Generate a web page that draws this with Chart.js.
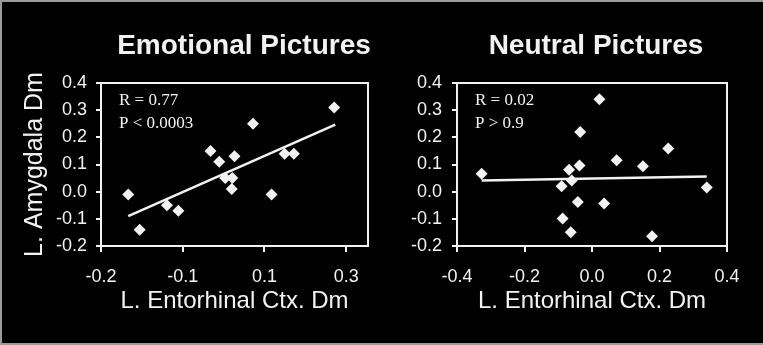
<!DOCTYPE html>
<html>
<head>
<meta charset="utf-8">
<script src="https://cdn.jsdelivr.net/npm/chart.js@4.4.1/dist/chart.umd.min.js"></script>
<style>
  body { margin: 0; background: #9a9a9a; width: 763px; height: 345px; overflow: hidden; }
  #back { position: absolute; left: 2px; top: 2px; width: 761px; height: 341px; background: #000; }
  canvas { position: absolute; top: 0; }
</style>
</head>
<body>
<div id="back"></div>
<canvas id="emo" width="381" height="345" style="left:0"></canvas>
<canvas id="neu" width="382" height="345" style="left:381px"></canvas>
<script>
// Emotional pictures panel
const emoX = [-0.150, -0.129, -0.079, -0.058, 0.001, 0.017, 0.028, 0.041, 0.040, 0.045, 0.079, 0.113, 0.137, 0.154, 0.228];
const emoY = [-0.01, -0.14, -0.05, -0.07, 0.15, 0.11, 0.05, 0.05, 0.01, 0.13, 0.25, -0.01, 0.14, 0.14, 0.31];
const emoFitX = [-0.150, 0.230];
const emoFitY = [-0.090, 0.247];
const emoXTicks = [-0.2, -0.05, 0.1, 0.25];
const emoXTickLabels = ['-0.2', '-0.1', '0.1', '0.3'];
const emoStats = ['R = 0.77', 'P < 0.0003'];

// Neutral pictures panel
const neuX = [-0.327, -0.090, -0.068, -0.060, -0.037, -0.035, 0.022, 0.073, -0.042, 0.036, -0.087, -0.063, 0.151, 0.226, 0.178, 0.340];
const neuY = [0.066, 0.020, 0.081, 0.041, 0.096, 0.220, 0.340, 0.116, -0.038, -0.044, -0.099, -0.149, 0.094, 0.159, -0.164, 0.015];
const neuFitX = [-0.327, 0.340];
const neuFitY = [0.041, 0.056];
const neuXTicks = [-0.4, -0.2, 0.0, 0.2, 0.4];
const neuXTickLabels = ['-0.4', '-0.2', '0.0', '0.2', '0.4'];
const neuStats = ['R = 0.02', 'P > 0.9'];

const yTicks = [-0.2, -0.1, 0.0, 0.1, 0.2, 0.3, 0.4];

const white = '#f2f2f2';
const sans = '"Liberation Sans", Arial, sans-serif';

// frame, panel title and R/P text
const panelText = {
  id: 'panelText',
  afterDraw(chart, args, opts) {
    const { ctx, chartArea: a } = chart;
    ctx.save();
    ctx.strokeStyle = white;
    ctx.lineWidth = 2;
    ctx.strokeRect(a.left, a.top, a.right - a.left, a.bottom - a.top);
    ctx.fillStyle = white;
    ctx.font = 'bold 28px ' + sans;
    ctx.textAlign = 'center';
    ctx.fillText(opts.title, opts.titleX, 54);
    ctx.font = '17px "Liberation Serif", "Times New Roman", serif';
    ctx.textAlign = 'left';
    opts.stats.forEach((s, i) => ctx.fillText(s, a.left + 18, a.top + 22 + i * 23));
    ctx.restore();
  }
};

function makePanel(id, p) {
  new Chart(document.getElementById(id), {
    type: 'scatter',
    data: {
      datasets: [{
        data: p.xs.map((x, i) => ({ x: x, y: p.ys[i] })),
        pointStyle: 'rectRot',
        pointRadius: 6,
        backgroundColor: white,
        borderColor: white,
        borderWidth: 0
      }, {
        data: p.fitX.map((x, i) => ({ x: x, y: p.fitY[i] })),
        showLine: true,
        borderColor: white,
        borderWidth: 2.5,
        pointRadius: 0
      }]
    },
    options: {
      responsive: false,
      animation: false,
      devicePixelRatio: 1,
      layout: { padding: { left: 0, right: p.padRight, top: 83, bottom: 0 } },
      plugins: {
        legend: { display: false },
        tooltip: { enabled: false },
        panelText: { title: p.title, titleX: p.titleX, stats: p.stats }
      },
      scales: {
        x: {
          type: 'linear',
          min: p.xMin,
          max: p.xMax,
          afterBuildTicks: s => { s.ticks = p.xTicks.map(v => ({ value: v })); },
          afterFit: s => { s.height = 99; },
          ticks: {
            callback: (v, i) => p.xLabels[i],
            color: white,
            font: { family: sans, size: 18 },
            padding: 14,
            maxRotation: 0,
            autoSkip: false
          },
          grid: { drawOnChartArea: false, tickLength: 6, color: white, lineWidth: 2 },
          border: { color: white, width: 2 },
          title: {
            display: true,
            text: 'L. Entorhinal Ctx. Dm',
            color: white,
            font: { family: sans, size: 24 },
            padding: { top: 0, bottom: 29 }
          }
        },
        y: {
          min: -0.2,
          max: 0.4,
          afterBuildTicks: s => { s.ticks = yTicks.map(v => ({ value: v })); },
          afterFit: s => { s.width = p.yWidth; },
          ticks: {
            callback: v => v.toFixed(1),
            color: white,
            font: { family: sans, size: 18 },
            padding: p.yPad
          },
          grid: { drawOnChartArea: false, tickLength: 5, color: white, lineWidth: 2 },
          border: { color: white, width: 2 },
          title: {
            display: p.yTitle,
            text: 'L. Amygdala Dm',
            color: white,
            font: { family: sans, size: 25 },
            padding: { top: 20, bottom: 0 }
          }
        }
      }
    },
    plugins: [panelText]
  });
}

makePanel('emo', {
  title: 'Emotional Pictures', titleX: 244, stats: emoStats,
  xs: emoX, ys: emoY, fitX: emoFitX, fitY: emoFitY,
  xMin: -0.2, xMax: 0.29, xTicks: emoXTicks, xLabels: emoXTickLabels,
  padRight: 13, yWidth: 101, yPad: 9, yTitle: true
});

makePanel('neu', {
  title: 'Neutral Pictures', titleX: 215, stats: neuStats,
  xs: neuX, ys: neuY, fitX: neuFitX, fitY: neuFitY,
  xMin: -0.4, xMax: 0.4, xTicks: neuXTicks, xLabels: neuXTickLabels,
  padRight: 36, yWidth: 76, yPad: 10, yTitle: false
});
</script>
</body>
</html>
